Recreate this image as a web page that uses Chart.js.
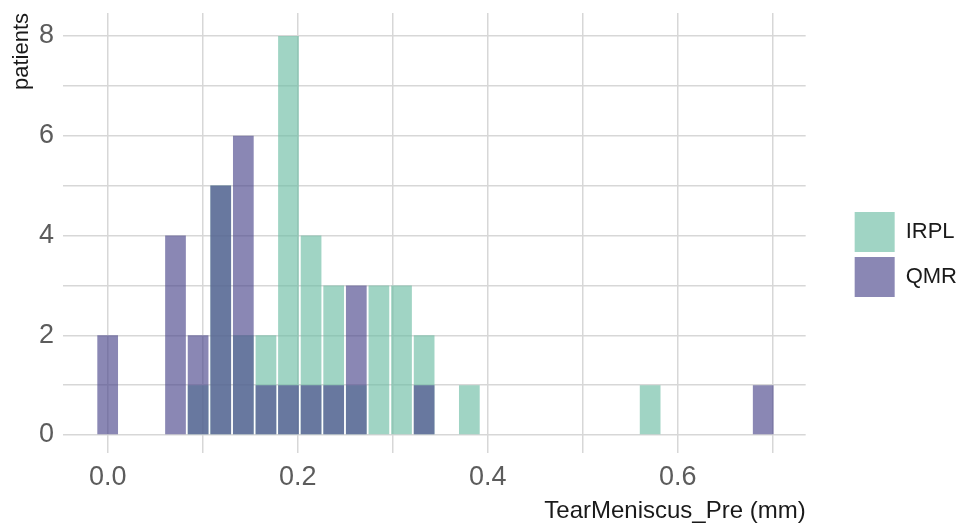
<!DOCTYPE html>
<html>
<head>
<meta charset="utf-8">
<script src="https://cdn.jsdelivr.net/npm/chart.js@4.4.1/dist/chart.umd.min.js"></script>
<style>
  html, body { margin: 0; padding: 0; background: #ffffff; }
  #wrap { width: 971px; height: 529px; }
</style>
</head>
<body>
<div id="wrap"><canvas id="c" width="971" height="529"></canvas></div>
<script>
// Histogram bins (bin centres, mm)
const binCenters = [
  0.0000, 0.0238, 0.0476, 0.0714, 0.0952, 0.1190, 0.1428, 0.1666, 0.1903, 0.2141,
  0.2379, 0.2617, 0.2855, 0.3093, 0.3331, 0.3569, 0.3807, 0.4045, 0.4283, 0.4521,
  0.4759, 0.4997, 0.5234, 0.5472, 0.5710, 0.5948, 0.6186, 0.6424, 0.6662, 0.6900
];

// Patient counts per bin
const irplCounts = [0, 0, 0, 0, 1, 5, 2, 2, 8, 4, 3, 1, 3, 3, 2, 0, 1, 0, 0, 0, 0, 0, 0, 0, 1, 0, 0, 0, 0, 0];
const qmrCounts  = [2, 0, 0, 4, 2, 5, 6, 1, 1, 1, 1, 3, 0, 0, 1, 0, 0, 0, 0, 0, 0, 0, 0, 0, 0, 0, 0, 0, 0, 1];

// Axis ticks (gridline positions and their labels)
const xTickValues = [0, 0.1, 0.2, 0.3, 0.4, 0.5, 0.6, 0.7];
const xTickLabels = ['0.0', '', '0.2', '', '0.4', '', '0.6', ''];
const yTickValues = [0, 1, 2, 3, 4, 5, 6, 7, 8];
const yTickLabels = ['0', '', '2', '', '4', '', '6', '', '8'];

const seriesNames = ['IRPL', 'QMR'];

const FONT = "'Liberation Sans', Arial, sans-serif";
const GRID = '#d7d7d7';

const toPoints = (counts) => binCenters.map((x, i) => ({ x: x, y: counts[i] }));

new Chart(document.getElementById('c'), {
  type: 'bar',
  data: {
    datasets: [
      {
        label: seriesNames[0],
        data: toPoints(irplCounts),
        backgroundColor: 'rgba(109,189,165,0.65)',
        borderWidth: 0,
        order: 1
      },
      {
        label: seriesNames[1],
        data: toPoints(qmrCounts),
        backgroundColor: 'rgba(75,71,140,0.65)',
        borderWidth: 0,
        order: 0
      }
    ]
  },
  options: {
    responsive: false,
    animation: false,
    devicePixelRatio: 1,
    grouped: false,
    categoryPercentage: 1.0,
    barPercentage: 0.92,
    layout: { padding: { left: 0, right: 4, top: 13, bottom: 0 } },
    plugins: {
      tooltip: { enabled: false },
      legend: {
        position: 'right',
        fullSize: false,
        align: 'center',
        title: { display: true, text: ' ', font: { size: 12 }, padding: { top: 14, bottom: 14.6 } },
        labels: {
          boxWidth: 40,
          boxHeight: 40,
          padding: 5,
          color: '#1a1a1a',
          font: { family: FONT, size: 22 },
          sort: (a, b) => a.datasetIndex - b.datasetIndex
        }
      }
    },
    scales: {
      x: {
        type: 'linear',
        min: -0.047,
        max: 0.7347,
        offset: false,
        grid: { offset: false, color: GRID, lineWidth: 1.5, drawTicks: true, tickLength: 8.8, tickColor: 'rgba(0,0,0,0)' },
        border: { display: false },
        afterBuildTicks: (s) => { s.ticks = xTickValues.map(v => ({ value: v })); },
        ticks: {
          autoSkip: false,
          maxRotation: 0,
          padding: 0,
          color: '#5c5c5c',
          font: { family: FONT, size: 27 },
          callback: (v, i) => xTickLabels[i]
        },
        title: {
          display: true,
          text: 'TearMeniscus_Pre (mm)',
          align: 'end',
          color: '#1a1a1a',
          font: { family: FONT, size: 24 },
          padding: { top: 2.9, bottom: 3.1 }
        }
      },
      y: {
        type: 'linear',
        min: -0.36,
        max: 8.46,
        grid: { color: GRID, lineWidth: 1.5, drawTicks: true, tickLength: 9, tickColor: 'rgba(0,0,0,0)' },
        border: { display: false },
        afterBuildTicks: (s) => { s.ticks = yTickValues.map(v => ({ value: v })); },
        ticks: {
          autoSkip: false,
          padding: 0,
          color: '#5c5c5c',
          font: { family: FONT, size: 27, lineHeight: 0.9 },
          callback: (v, i) => yTickLabels[i]
        },
        title: {
          display: true,
          text: 'patients',
          align: 'end',
          color: '#1a1a1a',
          font: { family: FONT, size: 22 },
          padding: { top: 8.8, bottom: 3.8 }
        }
      },
      // empty spacer between the plot panel and the legend
      yGap: {
        type: 'linear',
        position: 'right',
        display: true,
        grid: { display: false, drawTicks: false },
        border: { display: false },
        ticks: { display: false },
        afterFit: (s) => { s.width = 44; }
      }
    }
  }
});
</script>
</body>
</html>
